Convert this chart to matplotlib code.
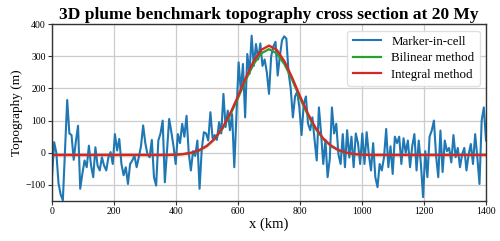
import numpy as np
import matplotlib
matplotlib.use("Agg")
import matplotlib.pyplot as plt

plt.rcParams['font.family'] = ['Liberation Serif', 'DejaVu Serif']

mic_x = np.arange(0, 1401, 7)
mic_topo = [
    -76, 33, 0, -95, -130, -148, 5, 164, 60, 55,
    -22, 35, 84, -112, -65, -24, -45, 22, -40, -76,
    17, -40, -55, -14, -40, -55, -14, 2, -35, 58,
    7, 43, -35, -70, -45, -97, -35, -24, -9, -45,
    -14, 20, 85, 30, -5, -14, 40, -76, -102, 38,
    60, 100, -92, 5, 105, 64, 20, -35, 58, 30,
    90, 50, 115, 0, -55, 5, -10, 38, -112, 10,
    64, 60, 38, 126, 45, 55, 40, 95, 60, 183,
    80, 131, 70, 120, -45, 120, 281, 193, 276, 110,
    307, 245, 364, 270, 338, 290, 340, 270, 290, 250,
    183, 300, 330, 345, 240, 300, 350, 362, 355, 250,
    200, 110, 175, 190, 140, 55, 150, 175, 90, 70,
    110, 40, -24, 141, 60, -35, 40, -76, -20, 141,
    60, 90, -5, -35, 58, -45, 70, -15, 50, -45,
    60, 30, -35, 60, -35, 64, -5, -55, 30, -76,
    -107, -35, -55, -14, 74, -45, 20, -66, 50, 30,
    50, -35, 45, 0, 38, -45, 20, 58, -55, 38,
    -35, -138, 5, -76, 50, 69, 100, -10, -76, 69,
    -60, 38, 5, 15, -30, 55, -14, 15, -45, -5,
    15, -55, -5, 27, -35, 58, -14, -97, 100, 141,
    38,
]

# smooth solutions, sampled every 25 km
smooth_x = np.arange(0, 1401, 25)
bilinear_topo = [
    -7, -7, -7, -7, -7, -7, -7, -7, -7, -7,
    -7, -7, -7, -7, -7, -7, -6, -4, 0, 7,
    21, 43, 75, 118, 170, 226, 275, 309, 322, 309,
    275, 226, 170, 118, 75, 43, 21, 7, 0, -4,
    -6, -7, -7, -7, -7, -7, -7, -7, -7, -7,
    -7, -7, -7, -7, -7, -7, -7,
]
integral_topo = [
    -7, -7, -7, -7, -7, -7, -7, -7, -7, -7,
    -7, -7, -7, -7, -7, -7, -6, -4, 0, 8,
    22, 44, 78, 123, 176, 233, 284, 320, 333, 320,
    284, 233, 176, 123, 78, 44, 22, 8, 0, -4,
    -6, -7, -7, -7, -7, -7, -7, -7, -7, -7,
    -7, -7, -7, -7, -7, -7, -7,
]

fig = plt.figure(figsize=(5.0, 2.41), dpi=100)
ax = fig.add_axes([0.104, 0.166, 0.868, 0.734])

ax.plot(mic_x, mic_topo, color='#1f77b4', lw=1.5, label='Marker-in-cell')
ax.plot(smooth_x, bilinear_topo, color='#2ca02c', lw=1.6, label='Bilinear method')
integral = np.array(integral_topo)
ax.fill_between(smooth_x, integral - 8, integral + 8, color='#d62728', alpha=0.12, lw=0)
ax.plot(smooth_x, integral_topo, color='#d62728', lw=1.6, label='Integral method')

ax.set_xlim(0, 1400)
ax.set_ylim(-150, 400)
ax.set_xticks(range(0, 1401, 200))
ax.set_yticks(range(-100, 401, 100))
ax.grid(True, color='#cccccc', lw=0.9)
ax.set_axisbelow(True)
for s in ax.spines.values():
    s.set_color('#333333')
    s.set_linewidth(1.0)
ax.tick_params(labelsize=7, length=3, width=0.8, color='#333333', pad=1.5)

ax.set_xlabel('x (km)', fontsize=10.5, labelpad=1)
ax.set_ylabel('Topography (m)', fontsize=9.5, labelpad=2)
ax.set_title('3D plume benchmark topography cross section at 20 My',
             fontsize=12.5, fontweight='bold', pad=4)
ax.legend(loc='upper right', fontsize=9.3, framealpha=0.9, edgecolor='#dddddd',
          handlelength=2.2, borderpad=0.4, labelspacing=0.35)

fig.savefig('out.png', dpi=100)
